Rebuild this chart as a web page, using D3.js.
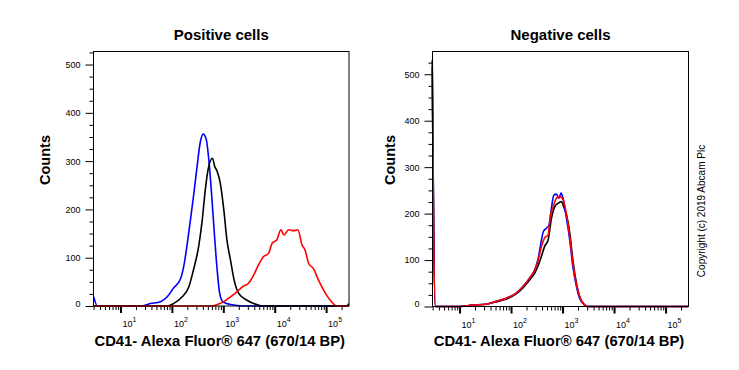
<!DOCTYPE html>
<html><head><meta charset="utf-8">
<script src="https://cdn.jsdelivr.net/npm/d3@7"></script>
<style>
html,body{margin:0;padding:0;background:#fff;}
text{font-family:"Liberation Sans",Arial,sans-serif;}
</style></head>
<body><svg id="c" width="739" height="370"></svg>
<script>
// ---- data: x positions given as log10(intensity) exponents, y as counts ----
const panelTitles = ["Positive cells", "Negative cells"];
const xAxisLabel = "CD41- Alexa Fluor® 647 (670/14 BP)";
const yAxisLabel = "Counts";
const copyrightText = "Copyright (c) 2019 Abcam Plc";
const xMajorExps = [1, 2, 3, 4, 5];
const yTickValuesPos = [0, 100, 200, 300, 400, 500];
const yTickValuesNeg = [0, 100, 200, 300, 400, 500];

const posBlueE  = [0.48,0.55,1.0,1.39,1.58,1.78,1.91,2.03,2.17,2.23,2.30,2.36,2.42,2.49,2.55,2.61,2.67,2.73,2.78,2.83,2.88,2.93,2.99,3.14,3.4,5.44];
const posBlueC  = [19,0,0,0,5,9,19,37,57,82,130,178,227,289,338,356,344,289,220,144,75,26,9,3,0,0];
const posBlackE = [0.48,1.91,2.03,2.20,2.33,2.42,2.52,2.59,2.65,2.71,2.79,2.83,2.88,2.94,3.01,3.07,3.14,3.21,3.30,3.46,3.65,3.78,5.40,5.44];
const posBlackC = [0,0,5,19,40,75,123,178,241,286,306,290,279,255,199,137,95,54,26,12,3,0,0,5];
const posRedE   = [0.48,2.78,2.88,3.01,3.14,3.27,3.39,3.49,3.59,3.67,3.78,3.88,3.95,4.04,4.12,4.18,4.27,4.37,4.45,4.53,4.59,4.66,4.75,4.85,4.95,5.08,5.21,5.44];
const posRedC   = [0,0,3,9,19,30,41,47,64,82,102,109,130,137,158,147,158,156,158,127,116,88,78,54,33,12,0,0];

const negBlackE = [0.47,0.53,1.0,1.26,1.52,1.71,1.91,2.10,2.23,2.36,2.46,2.52,2.59,2.65,2.72,2.78,2.85,2.91,2.98,3.02,3.07,3.14,3.20,3.27,3.33,3.43,3.49,5.44];
const negBlackC = [530,0,0,3,5,10,16,27,40,57,72,86,108,129,143,187,215,222,226,215,200,158,100,50,22,3,0,0];
const negBlueE  = [0.47,0.53,1.0,1.26,1.52,1.71,1.91,2.10,2.23,2.36,2.46,2.52,2.59,2.63,2.69,2.74,2.78,2.83,2.88,2.93,2.97,3.01,3.06,3.14,3.20,3.27,3.33,3.43,3.49,5.44];
const negBlueC  = [515,0,0,3,5,11,18,29,43,61,79,100,143,162,169,176,208,240,242,233,244,233,201,143,86,43,18,3,0,0];
const negRedE   = [0.47,0.53,1.0,1.26,1.52,1.71,1.91,2.10,2.23,2.36,2.46,2.52,2.59,2.65,2.72,2.76,2.81,2.88,2.94,3.01,3.06,3.14,3.20,3.27,3.33,3.43,3.49,5.44];
const negRedC   = [498,0,0,3,5,11,18,29,43,61,79,97,129,147,154,194,212,233,237,230,208,150,93,47,22,3,0,0];

const colors = {blue:"#0000ff", black:"#000000", red:"#ff0000"};

const panels = [
  {title: panelTitles[0], left: 93.5, right: 349, top: 51.5, bottom: 306, yMax: 527, yTicks: yTickValuesPos,
   series: [{e: posBlueE, c: posBlueC, col: colors.blue},
            {e: posBlackE, c: posBlackC, col: colors.black},
            {e: posRedE, c: posRedC, col: colors.red}],
   countsX: 50, copyright: false},
  {title: panelTitles[1], left: 432.5, right: 688.5, top: 51.5, bottom: 306.5, yMax: 549, yTicks: yTickValuesNeg,
   series: [{e: negBlackE, c: negBlackC, col: colors.black},
            {e: negBlueE, c: negBlueC, col: colors.blue},
            {e: negRedE, c: negRedC, col: colors.red}],
   countsX: 395, copyright: true}
];

const svg = d3.select("#c");
const xDomain = [Math.pow(10, 0.475), Math.pow(10, 5.445)];

panels.forEach(p => {
  const x = d3.scaleLog().domain(xDomain).range([p.left, p.right]);
  const y = d3.scaleLinear().domain([0, p.yMax]).range([p.bottom, p.top]);
  const g = svg.append("g");

  // minor y ticks
  const yMinor = d3.range(0, p.yMax + 1, 25).filter(v => v % 100 !== 0);
  g.append("g").attr("transform", `translate(${p.left},0)`)
    .call(d3.axisLeft(y).tickValues(yMinor).tickSize(4).tickFormat(""))
    .call(s => s.select(".domain").remove());
  // major y ticks
  const ya = g.append("g").attr("transform", `translate(${p.left},0)`)
    .call(d3.axisLeft(y).tickValues(p.yTicks).tickSize(8).tickPadding(5).tickFormat(d3.format("d")))
    .call(s => s.select(".domain").remove());
  ya.selectAll("text").attr("font-size", 9).attr("font-family", "Liberation Sans, Arial, sans-serif")
    .attr("dy", d => d === 0 ? "0.0em" : "0.32em");

  // x minor ticks
  const xMinor = [];
  for (let e = 0; e <= 5; e++) for (let m = 2; m <= 9; m++) {
    const v = m * Math.pow(10, e);
    if (v > xDomain[0] && v < xDomain[1]) xMinor.push(v);
  }
  g.append("g").attr("transform", `translate(0,${p.bottom})`)
    .call(d3.axisBottom(x).tickValues(xMinor).tickSize(4).tickFormat(""))
    .call(s => s.select(".domain").remove());
  const xa = g.append("g").attr("transform", `translate(0,${p.bottom})`)
    .call(d3.axisBottom(x).tickValues(xMajorExps.map(e => Math.pow(10, e))).tickSize(7).tickFormat(""))
    .call(s => s.select(".domain").remove());
  xa.selectAll(".tick line").attr("stroke-width", 2);
  // x tick labels with superscripts
  xMajorExps.forEach(e => {
    const t = g.append("text").attr("x", x(Math.pow(10, e)) + 2).attr("y", p.bottom + 21)
      .attr("font-size", 9).attr("fill", "#000");
    t.append("tspan").text("10");
    t.append("tspan").attr("font-size", 7).attr("dy", -5).text(String(e));
  });

  // data lines
  const line = d3.line().x(d => x(d[0])).y(d => y(d[1])).curve(d3.curveMonotoneX);
  p.series.forEach(s => {
    const pts = s.e.map((e, i) => [Math.pow(10, e), s.c[i]]);
    g.append("path").attr("d", line(pts)).attr("fill", "none")
      .attr("stroke", s.col).attr("stroke-width", 1.6).attr("stroke-linejoin", "round");
  });

  // frame
  g.append("rect").attr("x", p.left).attr("y", p.top)
    .attr("width", p.right - p.left).attr("height", p.bottom - p.top)
    .attr("fill", "none").attr("stroke", "#000").attr("stroke-width", 1);

  // title
  const cx = (p.left + p.right) / 2;
  g.append("text").attr("x", cx).attr("y", 40).attr("text-anchor", "middle")
    .attr("font-size", 15).attr("font-weight", "bold").text(p.title);
  // x label
  g.append("text").attr("x", cx - 1.5).attr("y", 346).attr("text-anchor", "middle")
    .attr("font-size", 14.8).attr("font-weight", "bold").text(xAxisLabel);
  // y label
  g.append("text").attr("transform", `translate(${p.countsX},160) rotate(-90)`)
    .attr("text-anchor", "middle").attr("font-size", 14.5).attr("font-weight", "bold").text(yAxisLabel);
  if (p.copyright) {
    g.append("text").attr("transform", `translate(705,211) rotate(-90)`)
      .attr("text-anchor", "middle").attr("font-size", 10).text(copyrightText);
  }
});
</script></body></html>
